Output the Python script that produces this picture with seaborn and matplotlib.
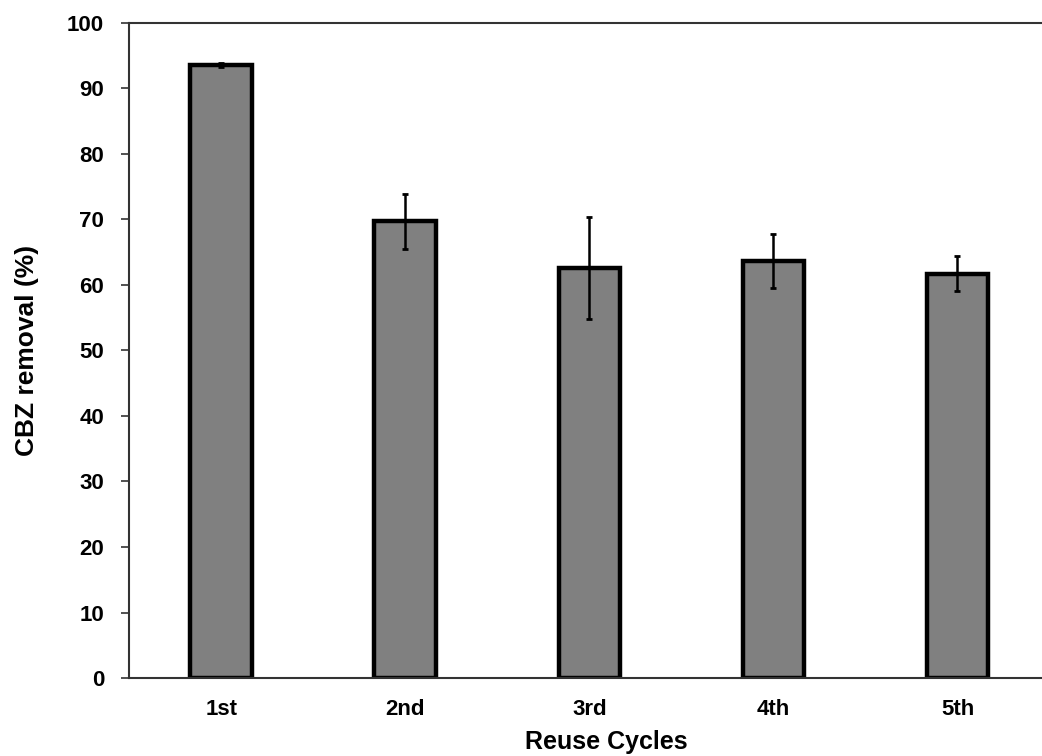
import matplotlib
matplotlib.use("Agg")
import matplotlib.pyplot as plt
import pandas as pd
import seaborn as sns

# Data
cycles = ["1st", "2nd", "3rd", "4th", "5th"]
removal = [93.6, 69.7, 62.6, 63.6, 61.7]
removal_err = [0.3, 4.2, 7.8, 4.1, 2.7]

df = pd.DataFrame({"cycle": cycles, "removal": removal, "err": removal_err})

sns.set_theme(style="white")
plt.rcParams["font.family"] = ["Liberation Sans", "DejaVu Sans"]
plt.rcParams["font.weight"] = "bold"
plt.rcParams["text.color"] = "black"
plt.rcParams["axes.labelcolor"] = "black"

fig = plt.figure(figsize=(10.42, 7.56), dpi=100)
# the original plot area runs past the right edge of the picture
ax = fig.add_axes([0.124, 0.103, 0.915, 0.867])

sns.barplot(data=df, x="cycle", y="removal", order=cycles, color="#808080",
            saturation=1, width=0.335, edgecolor="black", linewidth=3.2,
            errorbar=None, ax=ax)

# Error bars
xpos = [cycles.index(c) for c in df["cycle"]]
ax.errorbar(xpos, df["removal"], yerr=df["err"], fmt="none", ecolor="black",
            elinewidth=1.8, capsize=2, capthick=2)

ax.set_xlim(-0.5, 4.68)
ax.set_ylim(0, 100)
ax.set_yticks(range(0, 101, 10))

for side in ["top", "left", "bottom"]:
    ax.spines[side].set_visible(True)
    ax.spines[side].set_color("#333333")
    ax.spines[side].set_linewidth(1.5)
ax.spines["right"].set_visible(False)

ax.tick_params(axis="y", direction="out", length=6, width=1.2, color="#333333",
               labelcolor="black", labelsize=16, pad=12, left=True)
ax.tick_params(axis="x", length=0, labelcolor="black", labelsize=16, pad=15)
for lab in ax.get_xticklabels() + ax.get_yticklabels():
    lab.set_fontweight("bold")

ax.set_xlabel("Reuse Cycles", fontsize=18, fontweight="bold", labelpad=7)
ax.set_ylabel("CBZ removal (%)", fontsize=19, fontweight="bold", labelpad=20)

fig.savefig("out.png", dpi=100)
